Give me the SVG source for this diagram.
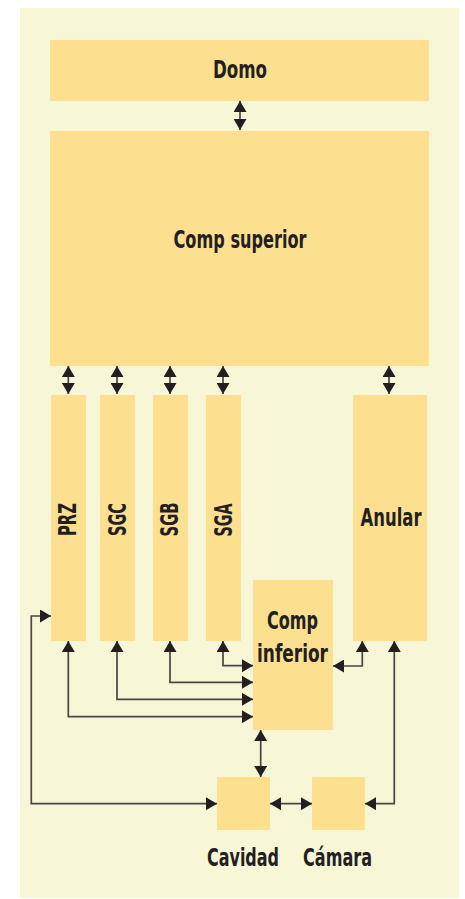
<svg xmlns="http://www.w3.org/2000/svg" width="465" height="899" viewBox="0 0 465 899">
  <style>
    .box { fill: #fde08f; }
    .lbl { font-family: "Liberation Sans Narrow", "DejaVu Sans Condensed", "Liberation Sans", sans-serif; font-weight: bold; font-size: 25px; fill: #231f20; text-anchor: middle; }
    .wire { fill: none; stroke: #4a4644; stroke-width: 1.7; marker-start: url(#head); marker-end: url(#head); }
  </style>
  <defs>
    <marker id="head" viewBox="0 0 11 13" refX="11" refY="6.5" markerWidth="11" markerHeight="13" markerUnits="userSpaceOnUse" orient="auto-start-reverse">
      <path d="M0,0 L11,6.5 L0,13 Z" fill="#231f20"/>
    </marker>
  </defs>

  <rect x="20" y="8" width="439" height="890" fill="#f7f7d8"/>

  <g id="domo">
    <rect class="box" x="50" y="40" width="379" height="61"/>
    <text class="lbl" x="240" y="78" textLength="54" lengthAdjust="spacingAndGlyphs">Domo</text>
  </g>
  <g id="comp-superior">
    <rect class="box" x="50" y="131" width="379" height="235"/>
    <text class="lbl" x="240" y="248" textLength="133" lengthAdjust="spacingAndGlyphs">Comp superior</text>
  </g>
  <g id="prz">
    <rect class="box" x="51" y="395" width="35" height="246"/>
    <text class="lbl" transform="translate(76,519.5) rotate(-90)" x="0" y="0" textLength="33" lengthAdjust="spacingAndGlyphs">PRZ</text>
  </g>
  <g id="sgc">
    <rect class="box" x="100" y="395" width="35" height="246"/>
    <text class="lbl" transform="translate(126,519.5) rotate(-90)" x="0" y="0" textLength="33" lengthAdjust="spacingAndGlyphs">SGC</text>
  </g>
  <g id="sgb">
    <rect class="box" x="153" y="395" width="35" height="246"/>
    <text class="lbl" transform="translate(178,519.5) rotate(-90)" x="0" y="0" textLength="34" lengthAdjust="spacingAndGlyphs">SGB</text>
  </g>
  <g id="sga">
    <rect class="box" x="206" y="395" width="35" height="246"/>
    <text class="lbl" transform="translate(231.5,520) rotate(-90)" x="0" y="0" textLength="33" lengthAdjust="spacingAndGlyphs">SGA</text>
  </g>
  <g id="anular">
    <rect class="box" x="353" y="395" width="74" height="246"/>
    <text class="lbl" x="391" y="526" textLength="61" lengthAdjust="spacingAndGlyphs">Anular</text>
  </g>
  <g id="comp-inferior">
    <rect class="box" x="253" y="580" width="80" height="150"/>
    <text class="lbl" x="292.5" y="628.5" textLength="51" lengthAdjust="spacingAndGlyphs">Comp</text>
    <text class="lbl" x="292.5" y="662" textLength="71" lengthAdjust="spacingAndGlyphs">inferior</text>
  </g>
  <g id="cavidad">
    <rect class="box" x="217" y="777" width="53" height="53"/>
    <text class="lbl" x="243" y="865.5" textLength="72" lengthAdjust="spacingAndGlyphs">Cavidad</text>
  </g>
  <g id="camara">
    <rect class="box" x="312" y="777" width="53" height="53"/>
    <text class="lbl" x="337.5" y="865.5" textLength="69" lengthAdjust="spacingAndGlyphs">Cámara</text>
  </g>

  <g id="connectors">
    <path class="wire" d="M240,101 V130"/>
    <path class="wire" d="M68.3,366 V394"/>
    <path class="wire" d="M117,366 V394"/>
    <path class="wire" d="M170,366 V394"/>
    <path class="wire" d="M223,366 V394"/>
    <path class="wire" d="M389,366 V394"/>
    <path class="wire" d="M68.3,641 V716.7 H253"/>
    <path class="wire" d="M117,641 V699.3 H253"/>
    <path class="wire" d="M170,641 V682.3 H253"/>
    <path class="wire" d="M223,641 V665.7 H253"/>
    <path class="wire" d="M362.3,641 V666 H333"/>
    <path class="wire" d="M260.7,730 V777"/>
    <path class="wire" d="M270,803.7 H312"/>
    <path class="wire" d="M51,616 H31.3 V803.7 H217"/>
    <path class="wire" d="M394.3,641 V803.7 H365"/>
  </g>
</svg>
